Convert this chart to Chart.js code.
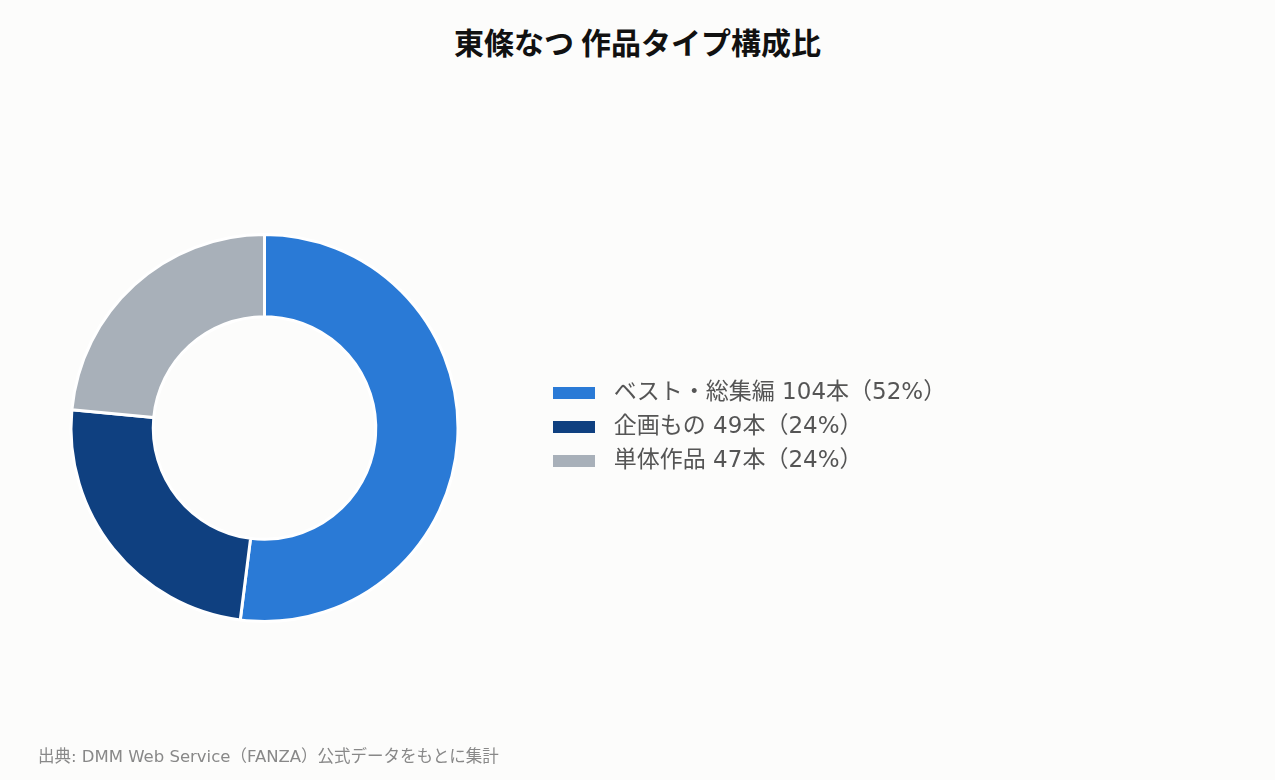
<!DOCTYPE html>
<html lang="ja">
<head>
<meta charset="utf-8">
<title>東條なつ 作品タイプ構成比</title>
<script src="https://cdn.jsdelivr.net/npm/chart.js@4.4.1/dist/chart.umd.min.js"></script>
<style>
  html, body { margin: 0; padding: 0; }
  body {
    width: 1275px; height: 780px; overflow: hidden; position: relative;
    background: #fcfcfb;
    font-family: 'Noto Sans CJK JP', 'Noto Sans', sans-serif;
  }
  #title {
    position: absolute; left: 0; top: 23px; width: 1275px;
    text-align: center; font-size: 30px; line-height: 36px;
    font-weight: bold; color: #111;
  }
  #wrap {
    position: absolute; left: -13px; top: 0; width: 1054px; height: 780px;
  }
  #source {
    position: absolute; left: 38px; top: 747px;
    font-family: 'DejaVu Sans', 'Noto Sans CJK JP', sans-serif;
    font-size: 16.5px; line-height: 19px; color: #888;
  }
</style>
</head>
<body>
<div id="title">東條なつ 作品タイプ構成比</div>
<div id="wrap"><canvas id="chart"></canvas></div>
<div id="source">出典: DMM Web Service（FANZA）公式データをもとに集計</div>

<script>
'use strict'

// data
const categories = ['ベスト・総集編', '企画もの', '単体作品'];
const counts = [104, 49, 47];
const percents = [52, 24, 24];
const colors = ['#2a7ad6', '#0f4080', '#a8b0b9'];

const legendLabels = categories.map((c, i) => ' ' + c + ' ' + counts[i] + '本（' + percents[i] + '%）');

// legend sizing: keep the chart area ending where the legend should start
const wrapWidth = 1054;
const areaRight = 555;
const boxW = 42, fontSize = 23, labelPad = 11;
const legendFamily = "'DejaVu Sans', 'Noto Sans CJK JP'";
const m = document.createElement('canvas').getContext('2d');
m.font = 'normal ' + fontSize + 'px ' + legendFamily;
const textW = Math.max(...legendLabels.map(t => m.measureText(t).width));
const legendW = labelPad + boxW + fontSize / 2 + textW + 10;
const padRight = Math.max(wrapWidth - areaRight - legendW, 0);

const ctx = document.getElementById('chart');
new Chart(ctx, {
  type: 'doughnut',
  data: {
    labels: categories,
    datasets: [{
      data: counts,
      backgroundColor: colors,
      borderColor: '#ffffff',
      borderWidth: 3,
      hoverOffset: 0
    }]
  },
  options: {
    responsive: true,
    maintainAspectRatio: false,
    animation: false,
    cutout: '57.5%',
    layout: {
      padding: { top: 231, bottom: 157, left: 0, right: padRight }
    },
    plugins: {
      // empty spacer so the legend sits a little higher than the ring centre
      title: {
        display: true,
        text: '',
        padding: { top: 1, bottom: 0 },
        font: { size: 1, lineHeight: 1 }
      },
      legend: {
        position: 'right',
        labels: {
          boxWidth: boxW,
          boxHeight: 12,
          padding: labelPad,
          color: '#555',
          font: { family: legendFamily, size: fontSize },
          generateLabels: function(chart) {
            return legendLabels.map((t, i) => ({
              text: t,
              fillStyle: colors[i],
              strokeStyle: colors[i],
              fontColor: '#555',
              lineWidth: 0,
              hidden: false,
              index: i
            }));
          }
        }
      },
      tooltip: { enabled: false }
    }
  }
});
</script>
</body>
</html>
